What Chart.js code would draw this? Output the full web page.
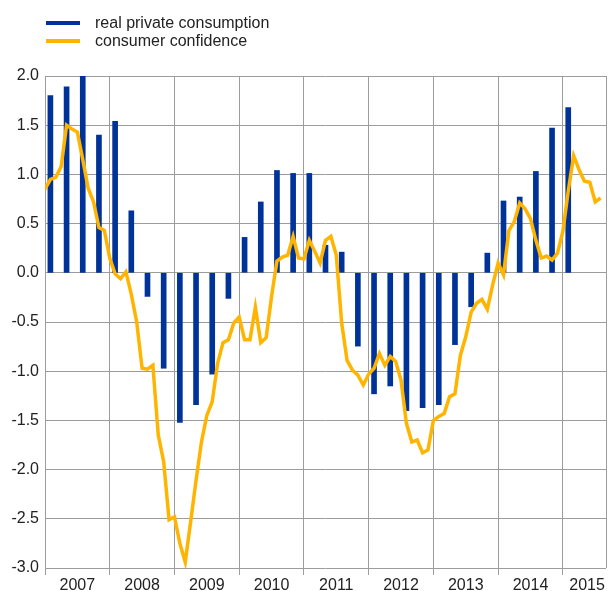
<!DOCTYPE html>
<html>
<head>
<meta charset="utf-8">
<script src="https://cdn.jsdelivr.net/npm/chart.js@4/dist/chart.umd.min.js"></script>
<style>
  body { margin: 0; background: #fff; }
  #wrap { position: relative; width: 609px; height: 591px; }
  .key { position: absolute; left: 0; font: 16px "Liberation Sans", Arial, sans-serif; color: #222; line-height: 18px; }
  .key span { position: absolute; left: 46px; width: 34px; height: 4px; top: 7px; }
  .key b { font-weight: normal; position: absolute; left: 95px; white-space: nowrap; }
</style>
</head>
<body>
<div id="wrap">
  <canvas id="myChart" width="609" height="591"></canvas>
  <div class="key" style="top:14px"><span style="background:#003399"></span><b>real private consumption</b></div>
  <div class="key" style="top:32px"><span style="background:#FFB400"></span><b>consumer confidence</b></div>
</div>
<script>
// years on the x axis (months counted from Jan 2007)
const years = ['2007', '2008', '2009', '2010', '2011', '2012', '2013', '2014', '2015'];

// quarterly, Q1 2007 .. Q1 2015
const consumption = [
  1.80, 1.89, 2.00, 1.40,
  1.54, 0.63, -0.24, -0.97,
  -1.52, -1.34, -1.03, -0.26,
  0.36, 0.72, 1.04, 1.01,
  1.01, 0.28, 0.21, -0.745,
  -1.23, -1.15, -1.40, -1.37,
  -1.34, -0.73, -0.345, 0.20,
  0.73, 0.77, 1.03, 1.47,
  1.68
];

// monthly, Jan 2007 .. Aug 2015
const confidence = [
  0.85, 0.95, 0.97, 1.08, 1.50, 1.46, 1.43, 1.15, 0.86, 0.72, 0.46, 0.43,
  0.15, -0.01, -0.06, 0.01, -0.22, -0.50, -0.97, -0.98, -0.94, -1.65, -1.92, -2.51,
  -2.48, -2.75, -2.94, -2.53, -2.11, -1.72, -1.45, -1.31, -0.92, -0.71, -0.68, -0.51,
  -0.45, -0.68, -0.68, -0.35, -0.71, -0.66, -0.24, 0.12, 0.16, 0.18, 0.37, 0.15,
  0.14, 0.33, 0.22, 0.10, 0.33, 0.37, 0.18, -0.51, -0.89, -0.99, -1.04, -1.14,
  -1.03, -0.97, -0.82, -0.94, -0.85, -0.90, -1.09, -1.53, -1.72, -1.70, -1.83, -1.80,
  -1.50, -1.46, -1.43, -1.26, -1.23, -0.84, -0.65, -0.40, -0.31, -0.27, -0.37, -0.12,
  0.10, -0.02, 0.43, 0.52, 0.71, 0.65, 0.55, 0.33, 0.15, 0.17, 0.13, 0.20,
  0.42, 0.83, 1.19, 1.05, 0.93, 0.92, 0.72, 0.76
];

const lastMonth = 104;
const gridColor = '#9c9c9c';
const font = { family: '"Liberation Sans", Arial, sans-serif', size: 16, lineHeight: 1 };

// year boundaries get a grid line, year middles get the label
const yearLabels = {};
years.forEach((y, i) => {
  yearLabels[i === years.length - 1 ? 100.5 : i * 12 + 6] = y;
});

const data = {
  datasets: [
    {
      type: 'line',
      label: 'consumer confidence',
      data: confidence.map((v, i) => ({ x: i, y: v })),
      borderColor: '#FFB400',
      backgroundColor: '#FFB400',
      borderWidth: 3.5,
      pointRadius: 0,
      tension: 0,
      order: 0
    },
    {
      type: 'bar',
      label: 'real private consumption',
      data: consumption.map((v, i) => ({ x: i * 3 + 1, y: v })),
      backgroundColor: '#003399',
      barThickness: 5,
      order: 1
    }
  ]
};

const config = {
  type: 'bar',
  data: data,
  options: {
    responsive: false,
    animation: false,
    layout: { padding: { top: 76, right: 1, left: 0, bottom: 0 } },
    plugins: { legend: { display: false }, tooltip: { enabled: false } },
    scales: {
      x: {
        type: 'linear',
        min: 0,
        max: lastMonth,
        offset: false,
        afterBuildTicks: (scale) => {
          const t = [];
          for (let m = 0; m <= 96; m += 12) t.push({ value: m });
          Object.keys(yearLabels).forEach(k => t.push({ value: +k }));
          t.push({ value: lastMonth });
          t.sort((a, b) => a.value - b.value);
          scale.ticks = t;
        },
        afterFit: (scale) => { scale.height = 23; },
        grid: {
          offset: false,
          color: (ctx) => (ctx.tick && (ctx.tick.value % 12 === 0 || ctx.tick.value === lastMonth)) ? gridColor : 'rgba(0,0,0,0)',
          tickLength: 7,
          tickColor: (ctx) => (ctx.tick && ctx.tick.value % 12 === 0) ? gridColor : 'rgba(0,0,0,0)'
        },
        border: { display: false },
        ticks: {
          autoSkip: false,
          maxRotation: 0,
          padding: 3,
          color: '#222',
          font: font,
          callback: (value) => yearLabels[value] || ''
        }
      },
      y: {
        min: -3,
        max: 2,
        afterFit: (scale) => { scale.width = 45; },
        grid: { color: gridColor, drawTicks: false },
        border: { display: false },
        ticks: {
          stepSize: 0.5,
          padding: 6,
          color: '#222',
          font: font,
          callback: (value) => value.toFixed(1)
        }
      }
    }
  }
};

const myChart = new Chart(
  document.getElementById('myChart'),
  config
);
</script>
</body>
</html>
